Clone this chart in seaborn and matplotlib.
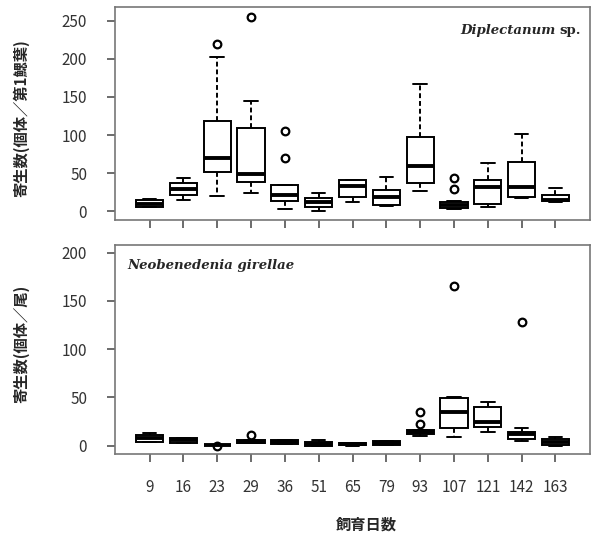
# 飼育日数ごとの寄生数（2寄生虫種）を箱ひげ図で描く

import matplotlib

matplotlib.use("Agg")
import matplotlib.pyplot as plt
import pandas as pd
import seaborn as sns


DAYS = ["9", "16", "23", "29", "36", "51", "65", "79", "93", "107", "121", "142", "163"]

# 上段: Diplectanum sp.（個体／第1鰓葉）  各日の 下ひげ, 第1四分位, 中央値, 第3四分位, 上ひげ
DIP_LO = [5, 15, 20, 24.5, 3.5, 0, 12, 7, 27, 3, 5, 17, 12]
DIP_Q1 = [6, 21.5, 52, 39, 13, 5, 19, 8.5, 37, 4, 9.6, 19, 13]
DIP_MED = [9, 29, 70, 49, 22, 12, 33, 19, 60, 8, 32, 31.5, 15]
DIP_Q3 = [14.5, 37, 118, 109, 35, 17, 41, 28, 98, 12.6, 41, 65, 22]
DIP_HI = [16.5, 44, 203, 145, 35, 23.6, 41, 44.6, 167, 14, 64, 102, 30]
DIP_OUT = [[], [], [220], [255], [70, 105], [], [], [], [], [29, 43.5], [], [], []]

# 下段: Neobenedenia girellae（個体／尾）
NEO_LO = [3.5, 2.8, 1, 2.5, 2, 0, 0, 0.5, 10.4, 9.3, 14.5, 5.2, 0]
NEO_Q1 = [3.5, 2.8, 1, 2.5, 2, 0, 0.3, 0.5, 12.5, 18.7, 19, 6.6, 0.8]
NEO_MED = [7.6, 5.6, 1, 4.2, 4, 1.4, 1.8, 2.5, 14.5, 34.6, 25, 12, 3.5]
NEO_Q3 = [11, 7.6, 1, 5.5, 6, 3.5, 3.3, 5, 16, 49, 40, 14.5, 6.6]
NEO_HI = [12.8, 7.6, 1, 5.5, 6, 5.9, 3.3, 5, 16, 50.8, 45.6, 18, 8.7]
NEO_OUT = [[], [], [0], [11], [], [], [], [], [22.5, 35.2], [165], [], [128.5], []]


def build_frame(lo, q1, med, q3, hi, outliers):
    """読み取った5数要約と外れ値から、箱ひげ図が同じ形になる観測値の表を作る。"""
    rows = []
    for day, a, b, c, d, e, out in zip(DAYS, lo, q1, med, q3, hi, outliers):
        values = [a] + [b] * 3 + [c] * 3 + [d] * 3 + [e] * (3 - len(out)) + list(out)
        rows += [{"飼育日数": day, "寄生数": v} for v in values]
    return pd.DataFrame(rows)


def draw_panel(ax, df, ylim, yticks):
    sns.boxplot(
        data=df,
        x="飼育日数",
        y="寄生数",
        order=DAYS,
        width=0.8,
        color="white",
        linecolor="black",
        linewidth=1.4,
        whis=1.5,
        flierprops=dict(marker="o", markersize=5.5, markerfacecolor="none",
                        markeredgecolor="black", markeredgewidth=1.6),
        medianprops=dict(linewidth=2.8, color="black"),
        whiskerprops=dict(linestyle=(0, (2.5, 1.5))),
        capprops=dict(linestyle="-"),
        ax=ax,
    )
    ax.set_xlim(-1.02, 13.02)
    ax.set_ylim(*ylim)
    ax.set_yticks(yticks)
    ax.set_xlabel("")
    for spine in ax.spines.values():
        spine.set_visible(True)
        spine.set_color("#777777")
        spine.set_linewidth(1.2)
    ax.tick_params(axis="y", length=6, width=1.1, color="#444444", pad=14,
                   labelsize=11, labelcolor="#333333")
    ax.tick_params(axis="x", length=6, width=1.1, color="#444444", pad=12,
                   labelsize=11, labelcolor="#333333")


sns.set_style("ticks")
plt.rcParams["font.family"] = ["Noto Sans CJK JP", "DejaVu Sans"]
plt.rcParams["axes.unicode_minus"] = False

fig = plt.figure(figsize=(5.92, 5.36), dpi=100)
ax_top = fig.add_axes([115 / 592, 1 - 220 / 536, 475 / 592, 212.7 / 536])
ax_bot = fig.add_axes([115 / 592, 1 - 454 / 536, 475 / 592, 209 / 536])

dip_df = build_frame(DIP_LO, DIP_Q1, DIP_MED, DIP_Q3, DIP_HI, DIP_OUT)
neo_df = build_frame(NEO_LO, NEO_Q1, NEO_MED, NEO_Q3, NEO_HI, NEO_OUT)

draw_panel(ax_top, dip_df, (-11.4, 267.6), [0, 50, 100, 150, 200, 250])
draw_panel(ax_bot, neo_df, (-8.6, 208), [0, 50, 100, 150, 200])

ax_top.set_xticklabels([])
ax_top.set_ylabel("寄生数(個体／第1鰓葉)", fontsize=11, fontweight="bold")
ax_top.yaxis.set_label_coords(-0.181, 0.48)
ax_bot.set_ylabel("寄生数(個体／尾)", fontsize=11, fontweight="bold")
ax_bot.yaxis.set_label_coords(-0.181, 0.526)
ax_bot.set_xlabel("飼育日数", fontsize=11, fontweight="bold")
ax_bot.xaxis.set_label_coords(0.53, -0.30)

serif = ["DejaVu Serif"]
name = ax_top.text(0.726, 0.86, "Diplectanum", transform=ax_top.transAxes,
                   ha="left", va="bottom", fontsize=9.5, fontweight="bold",
                   fontstyle="italic", family=serif)
ax_top.annotate("sp.", xy=(1, 0), xycoords=name, xytext=(3, 0),
                textcoords="offset points", ha="left", va="bottom",
                fontsize=9.5, fontweight="bold", family=serif)
ax_bot.text(0.027, 0.904, "Neobenedenia girellae", transform=ax_bot.transAxes,
            ha="left", va="center", fontsize=9.5, fontweight="bold",
            fontstyle="italic", family=serif)

fig.savefig("out.png", dpi=100)
plt.close(fig)
